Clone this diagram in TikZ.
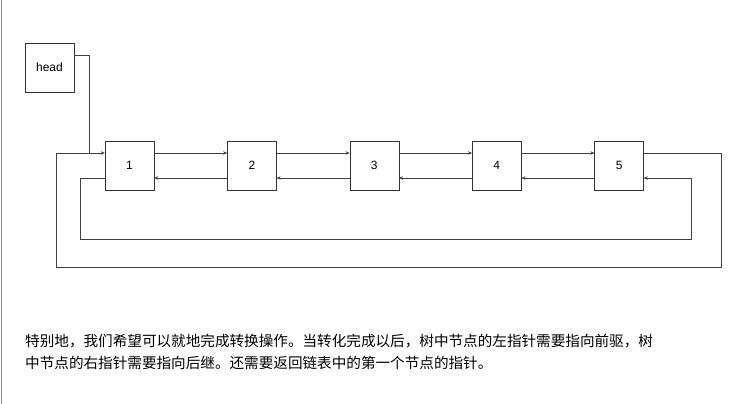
\documentclass[tikz,border=0pt]{standalone}
\usepackage{fontspec}
\setmainfont{Liberation Sans}
\newfontfamily\cjk{Noto Sans CJK SC}
\usetikzlibrary{positioning,arrows.meta}

\begin{document}
\begin{tikzpicture}[x=1pt,y=-1pt,
    box/.style={draw=black!80, minimum width=49pt, minimum height=49pt, inner sep=0pt, font=\fontsize{12}{14}\selectfont},
    link/.style={draw=black!75, line width=0.6pt, -{Stealth[length=4pt,width=3.5pt]}},
    wire/.style={draw=black!75, line width=0.6pt}]

  \useasboundingbox (0,0) rectangle (747,404);
  \draw[black!45, line width=0.8pt] (1,0) -- (1,404);

  % Define nodes
  \node[box] (head) at (49.5,67.5) {head};
  \node[box] (n1) at (129.5,165.5) {1};
  \node[box, right=73pt of n1] (n2) {2};
  \node[box, right=73pt of n2] (n3) {3};
  \node[box, right=73pt of n3] (n4) {4};
  \node[box, right=73pt of n4] (n5) {5};

  % Forward and backward links
  \foreach \a/\b in {n1/n2,n2/n3,n3/n4,n4/n5} {
    \draw[link] ([yshift=12.5pt]\a.east) -- ([yshift=12.5pt]\b.west);
    \draw[link] ([yshift=-12.5pt]\b.west) -- ([yshift=-12.5pt]\a.east);
  }

  % Loops
  \coordinate (join) at (89,153);
  \draw[wire] ([yshift=12.5pt]head.east) -| (join);
  \draw[link] ([yshift=12.5pt]n5.east) -- (721,153) -- (721,267) -- (56,267) -- (56,153) -- ([yshift=12.5pt]n1.west);
  \draw[link] ([yshift=-12.5pt]n1.west) -- (80,178) -- (80,239) -- (691,239) -- (691,178) -- ([yshift=-12.5pt]n5.east);

  % Text
  \node[anchor=west, inner sep=0pt, font=\cjk\fontsize{14.6}{18}\selectfont] (t1) at (25,341)
    {特别地，我们希望可以就地完成转换操作。当转化完成以后，树中节点的左指针需要指向前驱，树};
  \node[anchor=west, inner sep=0pt, font=\cjk\fontsize{14.6}{18}\selectfont] (t2) at (25,363)
    {中节点的右指针需要指向后继。还需要返回链表中的第一个节点的指针。};

\end{tikzpicture}
\end{document}
